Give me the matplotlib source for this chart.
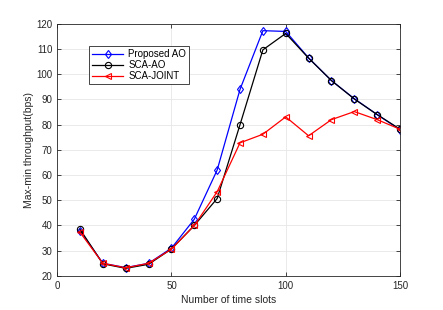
import matplotlib
matplotlib.use("Agg")
import matplotlib.pyplot as plt

plt.rcParams['font.family'] = ['Liberation Sans', 'DejaVu Sans']

x = [10, 20, 30, 40, 50, 60, 70, 80, 90, 100, 110, 120, 130, 140, 150]
proposed_ao = [38.0, 25.0, 23.3, 25.0, 31.0, 42.5, 62.0, 94.0, 117.3, 117.0, 106.5, 97.5, 90.3, 84.0, 78.0]
sca_ao = [38.5, 24.8, 23.0, 24.6, 30.7, 40.0, 50.7, 80.0, 109.7, 116.2, 106.4, 97.5, 90.2, 84.0, 78.2]
sca_joint = [37.3, 25.0, 23.2, 25.0, 30.6, 40.0, 53.4, 72.8, 76.2, 83.1, 75.6, 82.0, 85.2, 82.0, 78.2]

xticks = [0, 50, 100, 150]
yticks = [20, 30, 40, 50, 60, 70, 80, 90, 100, 110, 120]

fig = plt.figure(figsize=(4.43, 3.10), dpi=100)
ax = fig.add_axes([0.129, 0.110, 0.774, 0.813])

ms = 4.5
ax.plot(x, proposed_ao, color='blue', marker='d', mfc='none', ms=ms, lw=0.9, mew=0.8, label='Proposed AO')
ax.plot(x, sca_ao, color='black', marker='o', mfc='none', ms=ms, lw=0.9, mew=0.8, label='SCA-AO')
ax.plot(x, sca_joint, color='red', marker='<', mfc='none', ms=ms, lw=0.9, mew=0.8, label='SCA-JOINT')

ax.set_xlim(0, 150)
ax.set_ylim(20, 120)
ax.set_xticks(xticks)
ax.set_yticks(yticks)
ax.grid(True, color='#e6e6e6', lw=0.6)
ax.set_axisbelow(True)
ax.tick_params(labelsize=7, direction='in', length=3, width=0.6, colors='#262626', top=True, right=True)
for s in ax.spines.values():
    s.set_linewidth(0.6)
    s.set_color('#262626')
ax.set_xlabel('Number of time slots', fontsize=7.5, color='#262626', labelpad=3)
ax.set_ylabel('Max-min throughput(bps)', fontsize=7.5, color='#262626', labelpad=1.5)

leg = ax.legend(loc='upper left', bbox_to_anchor=(0.08, 0.93), fontsize=7, fancybox=False,
                edgecolor='#262626', framealpha=1, handlelength=3.2, borderpad=0.3,
                labelspacing=0.1, handletextpad=0.5)
leg.get_frame().set_linewidth(0.6)

fig.savefig('out.png', dpi=100)
